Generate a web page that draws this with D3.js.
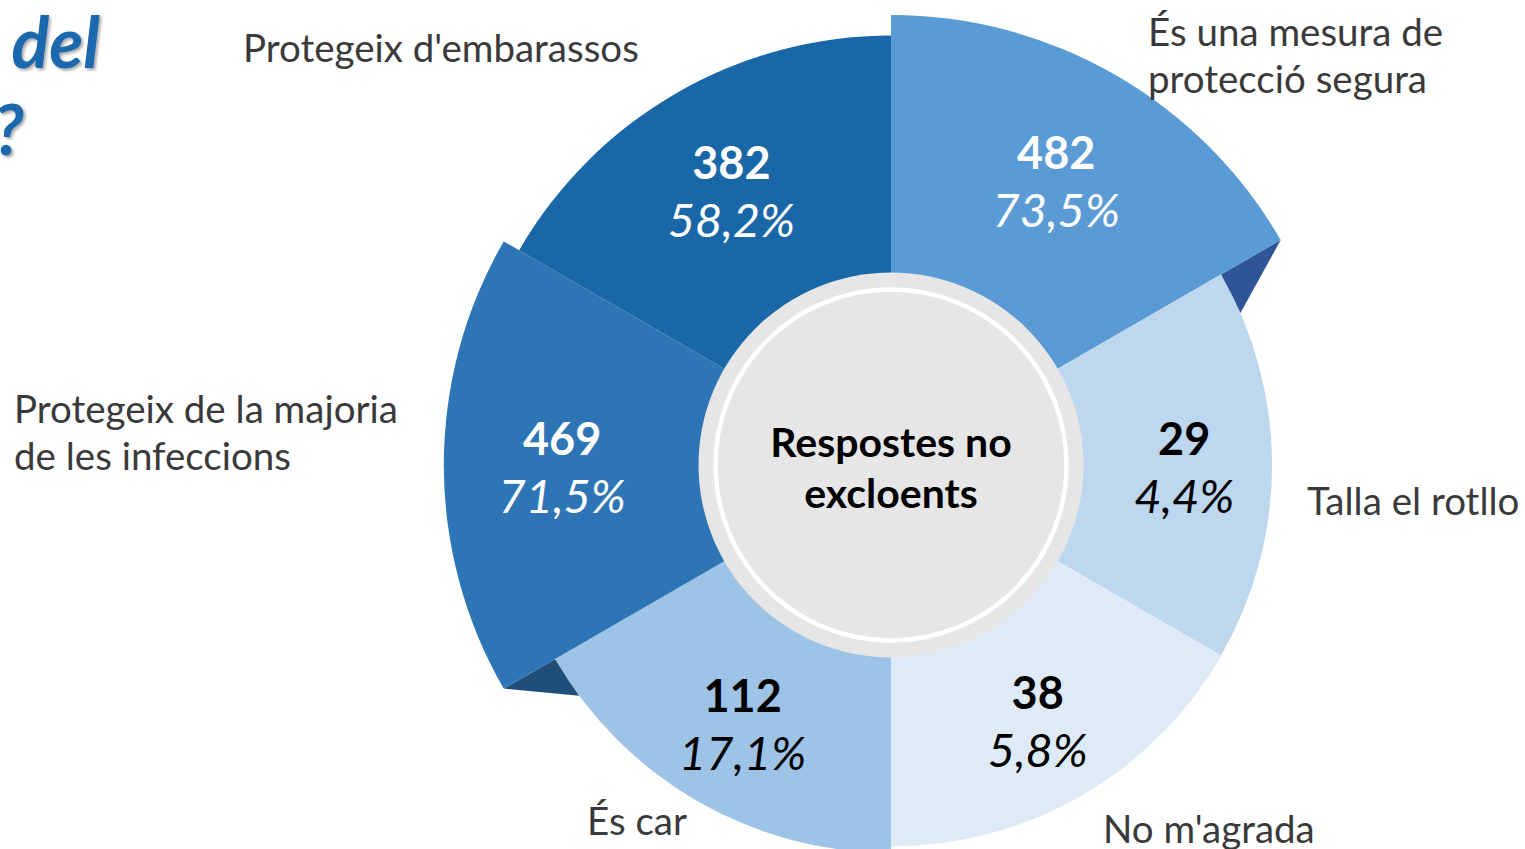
<!DOCTYPE html>
<html>
<head>
<meta charset="utf-8">
<title>Respostes no excloents</title>
<style>
  body { margin: 0; background: #fff; }
  svg text { font-family: Lato, "Open Sans", sans-serif; }
  text.cat-label { font-size: 38.5px; fill: #3a3a3a; }
  text.num-label { font-size: 45px; font-weight: bold; }
  text.pct-label { font-size: 47px; font-style: italic; }
  text.center-label { font-size: 41px; font-weight: bold; fill: #000; }
  text.title { font-size: 70px; font-style: italic; font-weight: bold; fill: #1b68ad; }
</style>
</head>
<body>
<script src="https://cdn.jsdelivr.net/npm/d3@7"></script>
<script>
  // data, clockwise from 12 o'clock
  var categories = ["És una mesura de protecció segura", "Talla el rotllo", "No m'agrada",
    "És car", "Protegeix de la majoria de les infeccions", "Protegeix d'embarassos"];
  var counts = [482, 29, 38, 112, 469, 382];
  var percents = [73.5, 4.4, 5.8, 17.1, 71.5, 58.2];
  var labelLines = [["És una mesura de", "protecció segura"], ["Talla el rotllo"], ["No m'agrada"],
    ["És car"], ["Protegeix de la majoria", "de les infeccions"], ["Protegeix d'embarassos"]];
  var centerText = ["Respostes no", "excloents"];
  var titleBits = ["del", "?"];

  // layout
  var width = 1525, height = 849;
  var cx = 891, cy = 465;
  var innerR = 190, holeR = 192.5, ringR = 175.5;
  var labelAnchors = [[1148, 46], [1307, 515], [1103, 843], [587, 835], [14, 423], [243, 62]];
  var lineGap = 47;

  var fmt = d3.formatLocale({ decimal: ",", thousands: ".", grouping: [3], currency: ["", "€"] });
  var pctFmt = function(v) { return fmt.format(".1f")(v) + "%"; };

  var rows = categories.map(function(c, i) {
    return { cat: c, count: counts[i], pct: percents[i], lines: labelLines[i], anchor: labelAnchors[i] };
  });

  var color = d3.scaleOrdinal().domain(categories)
    .range(["#5b9bd5", "#bdd7ee", "#deebf7", "#9dc3e6", "#2e75b6", "#1967a6"]);
  var foldColor = d3.scaleOrdinal().domain(categories)
    .range(["#2f5597", "#8fb4de", "#b3cde9", "#6f9fd0", "#1f4e79", "#123f6a"]);

  var r = d3.scalePow().exponent(1.5).domain([0, d3.max(counts)]).range([380, 450]);

  var pie = d3.pie().sort(null).value(function() { return 1; });
  var arcs = pie(rows);

  var arc = d3.arc()
    .innerRadius(innerR)
    .outerRadius(function(d) { return r(d.data.count); });
  // values sit a little past the middle of each band
  var labelArc = d3.arc()
    .innerRadius(innerR)
    .outerRadius(function(d) { return innerR + (r(d.data.count) - innerR) * 1.08; });

  var svg = d3.select('body')
    .append('svg')
    .attr('width', width)
    .attr('height', height);

  var defs = svg.append('defs');
  defs.append('filter')
    .attr('id', 'shadow')
    .attr('x', '-20%').attr('y', '-20%').attr('width', '140%').attr('height', '140%')
    .append('feDropShadow')
    .attr('dx', 2).attr('dy', 2).attr('stdDeviation', 1.5)
    .attr('flood-color', '#000').attr('flood-opacity', 0.35);

  // cut-off title on the left
  svg.append('text').attr('class', 'title')
    .attr('x', 100).attr('y', 68).attr('text-anchor', 'end')
    .attr('filter', 'url(#shadow)')
    .text(titleBits[0]);
  svg.append('text').attr('class', 'title')
    .attr('x', 24).attr('y', 155).attr('text-anchor', 'end')
    .attr('filter', 'url(#shadow)')
    .text(titleBits[1]);

  var main = svg.append('g')
    .attr('transform', 'translate(' + cx + ',' + cy + ')');

  // folds where a long slice meets a short one
  function polar(a, rad) { return [Math.sin(a) * rad, -Math.cos(a) * rad]; }
  var foldDelta = 6.5 * Math.PI / 180;
  var folds = [];
  arcs.forEach(function(d, i) {
    var next = arcs[(i + 1) % arcs.length];
    var ra = r(d.data.count), rb = r(next.data.count);
    if (Math.abs(ra - rb) < 30) return;
    var a = d.endAngle;
    var big = ra > rb ? d : next;
    var rBig = Math.max(ra, rb), rSmall = Math.min(ra, rb);
    var dir = ra > rb ? 1 : -1;
    folds.push({ cat: big.data.cat, pts: [polar(a, rBig), polar(a, rSmall), polar(a + dir * foldDelta, rSmall)] });
  });

  main.append('g').selectAll('path')
    .data(folds)
    .enter()
    .append('path')
    .attr('d', function(d) { return 'M' + d.pts.join('L') + 'Z'; })
    .style('fill', function(d) { return foldColor(d.cat); });

  main.append('g').selectAll('path')
    .data(arcs)
    .enter()
    .append('path')
    .attr('d', arc)
    .style('fill', function(d) { return color(d.data.cat); });

  // centre disc
  main.append('circle').attr('r', holeR).style('fill', '#e6e6e6');
  main.append('circle').attr('r', ringR)
    .style('fill', 'none').style('stroke', '#fff').style('stroke-width', 4.5);
  main.append('g').selectAll('text')
    .data(centerText)
    .enter()
    .append('text')
    .attr('class', 'center-label')
    .attr('text-anchor', 'middle')
    .attr('y', function(d, i) { return -8 + i * 51; })
    .text(function(d) { return d; });

  // values inside slices
  var textFill = function(d) { return d3.hsl(color(d.data.cat)).l < 0.65 ? '#fff' : '#000'; };
  var vals = main.append('g').selectAll('g')
    .data(arcs)
    .enter()
    .append('g')
    .attr('transform', function(d) { return 'translate(' + labelArc.centroid(d) + ')'; });
  vals.append('text')
    .attr('class', 'num-label')
    .attr('text-anchor', 'middle')
    .attr('y', -10)
    .style('fill', textFill)
    .text(function(d) { return d.data.count; });
  vals.append('text')
    .attr('class', 'pct-label')
    .attr('text-anchor', 'middle')
    .attr('y', 48)
    .style('fill', textFill)
    .text(function(d) { return pctFmt(d.data.pct); });

  // category labels
  var cats = svg.append('g').selectAll('text')
    .data(rows)
    .enter()
    .append('text')
    .attr('class', 'cat-label')
    .attr('x', function(d) { return d.anchor[0]; })
    .attr('y', function(d) { return d.anchor[1]; });
  cats.selectAll('tspan')
    .data(function(d) { return d.lines.map(function(l) { return { l: l, x: d.anchor[0] }; }); })
    .enter()
    .append('tspan')
    .attr('x', function(d) { return d.x; })
    .attr('dy', function(d, i) { return i === 0 ? 0 : lineGap; })
    .text(function(d) { return d.l; });
</script>
</body>
</html>
